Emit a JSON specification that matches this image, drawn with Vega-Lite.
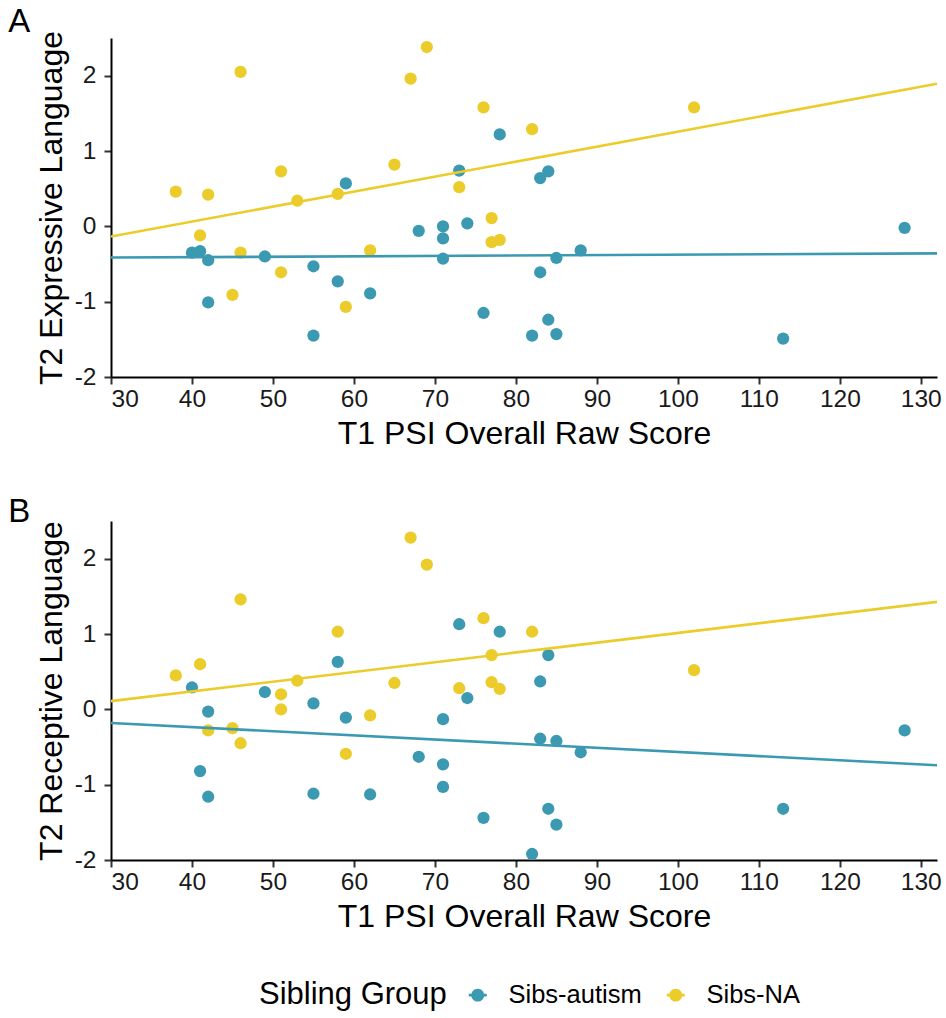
{
  "$schema": "https://vega.github.io/schema/vega-lite/v6.json",
  "background": "white",
  "padding": {"left": 8, "top": 5, "right": 5, "bottom": 5},
  "datasets": {
    "sibs": [
      {"psi": 40, "group": "Sibs-autism", "expr": -0.35, "recep": 0.29},
      {"psi": 41, "group": "Sibs-autism", "expr": -0.33, "recep": -0.82},
      {"psi": 42, "group": "Sibs-autism", "expr": -0.45, "recep": -0.03},
      {"psi": 42, "group": "Sibs-autism", "expr": -1.01, "recep": -1.16},
      {"psi": 49, "group": "Sibs-autism", "expr": -0.40, "recep": 0.23},
      {"psi": 55, "group": "Sibs-autism", "expr": -0.53, "recep": 0.08},
      {"psi": 55, "group": "Sibs-autism", "expr": -1.45, "recep": -1.12},
      {"psi": 58, "group": "Sibs-autism", "expr": -0.73, "recep": 0.63},
      {"psi": 59, "group": "Sibs-autism", "expr": 0.57, "recep": -0.11},
      {"psi": 62, "group": "Sibs-autism", "expr": -0.89, "recep": -1.13},
      {"psi": 68, "group": "Sibs-autism", "expr": -0.06, "recep": -0.63},
      {"psi": 71, "group": "Sibs-autism", "expr": 0.00, "recep": -0.13},
      {"psi": 71, "group": "Sibs-autism", "expr": -0.16, "recep": -0.73},
      {"psi": 71, "group": "Sibs-autism", "expr": -0.43, "recep": -1.03},
      {"psi": 73, "group": "Sibs-autism", "expr": 0.74, "recep": 1.13},
      {"psi": 74, "group": "Sibs-autism", "expr": 0.04, "recep": 0.15},
      {"psi": 76, "group": "Sibs-autism", "expr": -1.15, "recep": -1.44},
      {"psi": 78, "group": "Sibs-autism", "expr": 1.22, "recep": 1.03},
      {"psi": 82, "group": "Sibs-autism", "expr": -1.45, "recep": -1.92},
      {"psi": 83, "group": "Sibs-autism", "expr": 0.64, "recep": 0.37},
      {"psi": 83, "group": "Sibs-autism", "expr": -0.61, "recep": -0.39},
      {"psi": 84, "group": "Sibs-autism", "expr": 0.73, "recep": 0.72},
      {"psi": 84, "group": "Sibs-autism", "expr": -1.24, "recep": -1.32},
      {"psi": 85, "group": "Sibs-autism", "expr": -0.42, "recep": -0.42},
      {"psi": 85, "group": "Sibs-autism", "expr": -1.43, "recep": -1.53},
      {"psi": 88, "group": "Sibs-autism", "expr": -0.32, "recep": -0.57},
      {"psi": 113, "group": "Sibs-autism", "expr": -1.49, "recep": -1.32},
      {"psi": 128, "group": "Sibs-autism", "expr": -0.02, "recep": -0.28},
      {"psi": 38, "group": "Sibs-NA", "expr": 0.46, "recep": 0.45},
      {"psi": 41, "group": "Sibs-NA", "expr": -0.12, "recep": 0.60},
      {"psi": 42, "group": "Sibs-NA", "expr": 0.42, "recep": -0.28},
      {"psi": 45, "group": "Sibs-NA", "expr": -0.91, "recep": -0.25},
      {"psi": 46, "group": "Sibs-NA", "expr": 2.05, "recep": 1.46},
      {"psi": 46, "group": "Sibs-NA", "expr": -0.35, "recep": -0.45},
      {"psi": 51, "group": "Sibs-NA", "expr": 0.73, "recep": 0.20},
      {"psi": 51, "group": "Sibs-NA", "expr": -0.61, "recep": 0.00},
      {"psi": 53, "group": "Sibs-NA", "expr": 0.34, "recep": 0.38},
      {"psi": 58, "group": "Sibs-NA", "expr": 0.43, "recep": 1.03},
      {"psi": 59, "group": "Sibs-NA", "expr": -1.07, "recep": -0.59},
      {"psi": 62, "group": "Sibs-NA", "expr": -0.32, "recep": -0.08},
      {"psi": 65, "group": "Sibs-NA", "expr": 0.82, "recep": 0.35},
      {"psi": 67, "group": "Sibs-NA", "expr": 1.96, "recep": 2.28},
      {"psi": 69, "group": "Sibs-NA", "expr": 2.38, "recep": 1.92},
      {"psi": 73, "group": "Sibs-NA", "expr": 0.52, "recep": 0.28},
      {"psi": 76, "group": "Sibs-NA", "expr": 1.58, "recep": 1.21},
      {"psi": 77, "group": "Sibs-NA", "expr": 0.11, "recep": 0.72},
      {"psi": 77, "group": "Sibs-NA", "expr": -0.21, "recep": 0.36},
      {"psi": 78, "group": "Sibs-NA", "expr": -0.18, "recep": 0.27},
      {"psi": 82, "group": "Sibs-NA", "expr": 1.29, "recep": 1.03},
      {"psi": 102, "group": "Sibs-NA", "expr": 1.58, "recep": 0.52}
    ]
  },
  "spacing": 45,
  "vconcat": [
    {
      "width": 826,
      "height": 339,
      "title": {"text": "A", "anchor": "start", "frame": "bounds", "fontSize": 33, "fontWeight": "normal", "dx": -27, "offset": -8, "font": "Liberation Sans", "color": "black"},
      "data": {"name": "sibs"},
      "layer": [
        {
          "mark": {"type": "point", "filled": true, "opacity": 1, "size": 150},
          "encoding": {
            "x": {"field": "psi", "type": "quantitative", "title": "T1 PSI Overall Raw Score", "scale": {"domain": [30, 132], "nice": false, "zero": false}, "axis": {"values": [30, 40, 50, 60, 70, 80, 90, 100, 110, 120, 130]}},
            "y": {"field": "expr", "type": "quantitative", "title": "T2 Expressive Language", "scale": {"domain": [-2, 2.5], "nice": false, "zero": false}, "axis": {"values": [-2, -1, 0, 1, 2], "labelExpr": "'' + datum.value", "titlePadding": 6, "labelPadding": 8}},
            "color": {"field": "group", "type": "nominal", "title": "Sibling Group", "scale": {"domain": ["Sibs-autism", "Sibs-NA"], "range": ["#3B9AB2", "#EBCC2A"]}, "legend": {"symbolType": "M-0.72,0 A0.72,0.72 0 1,1 0.72,0 A0.72,0.72 0 1,1 -0.72,0 Z M-1,-0.14 L1,-0.14 L1,0.14 L-1,0.14 Z", "symbolSize": 324, "symbolStrokeWidth": 0}}
          }
        },
        {
          "transform": [{"regression": "expr", "on": "psi", "groupby": ["group"], "extent": [30, 132]}],
          "mark": {"type": "line", "strokeWidth": 2.6, "clip": true},
          "encoding": {
            "x": {"field": "psi", "type": "quantitative"},
            "y": {"field": "expr", "type": "quantitative"},
            "color": {"field": "group", "type": "nominal"}
          }
        }
      ]
    },
    {
      "width": 826,
      "height": 339,
      "title": {"text": "B", "anchor": "start", "frame": "bounds", "fontSize": 33, "fontWeight": "normal", "dx": -27, "offset": -8, "font": "Liberation Sans", "color": "black"},
      "data": {"name": "sibs"},
      "layer": [
        {
          "mark": {"type": "point", "filled": true, "opacity": 1, "size": 150},
          "encoding": {
            "x": {"field": "psi", "type": "quantitative", "title": "T1 PSI Overall Raw Score", "scale": {"domain": [30, 132], "nice": false, "zero": false}, "axis": {"values": [30, 40, 50, 60, 70, 80, 90, 100, 110, 120, 130]}},
            "y": {"field": "recep", "type": "quantitative", "title": "T2 Receptive Language", "scale": {"domain": [-2, 2.5], "nice": false, "zero": false}, "axis": {"values": [-2, -1, 0, 1, 2], "labelExpr": "'' + datum.value", "titlePadding": 6, "labelPadding": 8}},
            "color": {"field": "group", "type": "nominal", "title": "Sibling Group", "scale": {"domain": ["Sibs-autism", "Sibs-NA"], "range": ["#3B9AB2", "#EBCC2A"]}, "legend": {"symbolType": "M-0.72,0 A0.72,0.72 0 1,1 0.72,0 A0.72,0.72 0 1,1 -0.72,0 Z M-1,-0.14 L1,-0.14 L1,0.14 L-1,0.14 Z", "symbolSize": 324, "symbolStrokeWidth": 0}}
          }
        },
        {
          "transform": [{"regression": "recep", "on": "psi", "groupby": ["group"], "extent": [30, 132]}],
          "mark": {"type": "line", "strokeWidth": 2.6, "clip": true},
          "encoding": {
            "x": {"field": "psi", "type": "quantitative"},
            "y": {"field": "recep", "type": "quantitative"},
            "color": {"field": "group", "type": "nominal"}
          }
        }
      ]
    }
  ],
  "config": {
    "font": "Liberation Sans",
    "view": {"stroke": null},
    "axis": {
      "grid": false,
      "domainColor": "black",
      "domainWidth": 2,
      "tickColor": "#333333",
      "tickWidth": 2,
      "tickSize": 7,
      "labelFont": "Liberation Sans",
      "labelFontSize": 24.5,
      "labelColor": "#1a1a1a",
      "labelPadding": 3,
      "titleFont": "Liberation Sans",
      "titleFontSize": 32,
      "titleFontWeight": "normal",
      "titleColor": "black",
      "titlePadding": 8
    },
    "legend": {
      "orient": "none",
      "legendX": 148,
      "legendY": 944,
      "direction": "horizontal",
      "titleOrient": "left",
      "titleFont": "Liberation Sans",
      "titleFontSize": 31,
      "titleFontWeight": "normal",
      "titleColor": "black",
      "titlePadding": 18,
      "titleLimit": 400,
      "labelLimit": 300,
      "labelFont": "Liberation Sans",
      "labelFontSize": 25.5,
      "labelColor": "black",
      "labelOffset": 18,
      "columnPadding": 21
    }
  }
}
